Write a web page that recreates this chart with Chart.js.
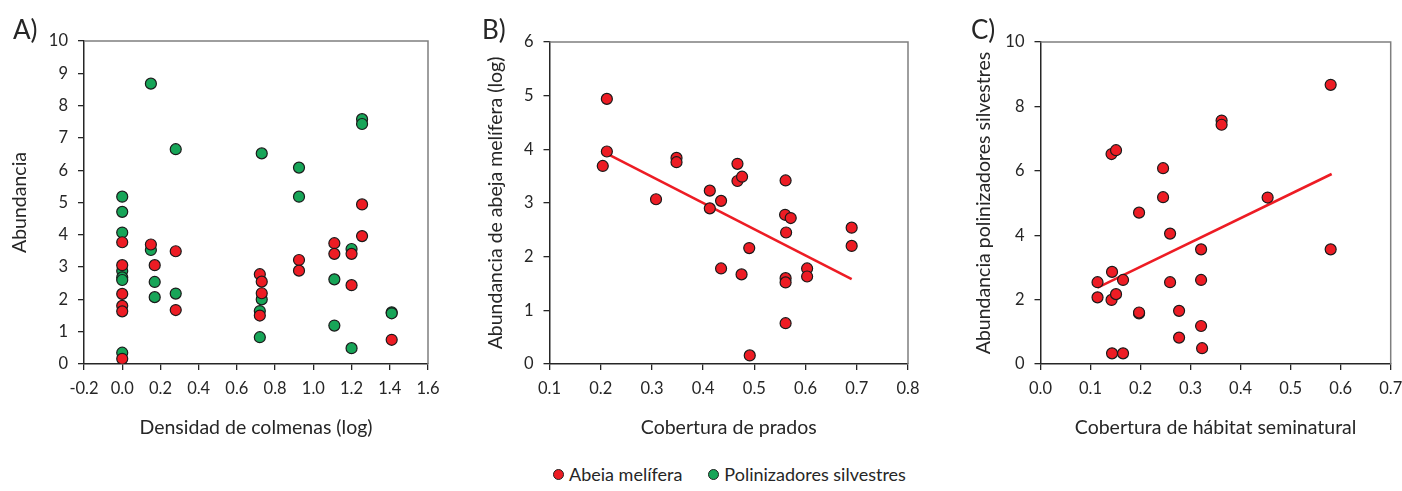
<!DOCTYPE html>
<html>
<head>
<meta charset="utf-8">
<script src="https://cdn.jsdelivr.net/npm/chart.js@4"></script>
<style>
  body { margin: 0; background: #fff; }
  #wrap { position: relative; width: 1402px; height: 491px; background: #fff; font-family: Lato, 'Open Sans', sans-serif; color: #262626; }
  canvas { position: absolute; top: 0; }
  .tag { position: absolute; font-size: 26px; top: 13px; }
  #legend { position: absolute; top: 463px; left: 553px; font-size: 18px; white-space: nowrap; }
  #legend span.dot { display: inline-block; width: 9px; height: 9px; border-radius: 50%; border: 1px solid #222; margin-right: 5px; vertical-align: 1px; }
  #legend span.item { margin-right: 26px; }
</style>
</head>
<body>
<div id="wrap">
  <canvas id="chA" width="450" height="450" style="left:0px"></canvas>
  <canvas id="chB" width="480" height="450" style="left:450px"></canvas>
  <canvas id="chC" width="462" height="450" style="left:940px"></canvas>
  <div class="tag" style="left:13px">A)</div>
  <div class="tag" style="left:482px">B)</div>
  <div class="tag" style="left:971px">C)</div>
  <div id="legend">
    <span class="item"><span class="dot" style="background:#ED1C24"></span>Abeia melífera</span><span class="item"><span class="dot" style="background:#17A558"></span>Polinizadores silvestres</span>
  </div>
</div>
<script>
// Panel A - hive density vs abundance
const honeyDensity = [0, 0, 0, 0, 0, 0, 0.15, 0.17, 0.28, 0.28, 0.72, 0.73, 0.73, 0.72, 0.925, 0.925, 1.11, 1.11, 1.20, 1.20, 1.255, 1.255, 1.41];
const honeyAbund = [3.77, 3.06, 2.17, 1.80, 1.63, 0.16, 3.70, 3.06, 3.49, 1.67, 2.78, 2.55, 2.19, 1.50, 3.22, 2.89, 3.74, 3.41, 3.41, 2.44, 4.94, 3.96, 0.75];
const wildDensity = [0, 0, 0, 0, 0, 0, 0, 0.15, 0.15, 0.17, 0.17, 0.28, 0.28, 0.73, 0.73, 0.72, 0.72, 0.925, 0.925, 1.11, 1.11, 1.20, 1.20, 1.255, 1.255, 1.41, 1.41];
const wildAbund = [5.18, 4.71, 4.07, 2.88, 2.68, 2.60, 0.35, 8.68, 3.53, 2.54, 2.07, 6.65, 2.18, 6.52, 2.00, 1.64, 0.83, 6.08, 5.18, 2.62, 1.19, 3.56, 0.49, 7.58, 7.43, 1.60, 1.57];

// Panel B - meadow cover vs honey bee abundance (log)
const meadowCover = [0.212, 0.212, 0.204, 0.308, 0.348, 0.348, 0.467, 0.467, 0.476, 0.413, 0.413, 0.435, 0.561, 0.560, 0.571, 0.562, 0.690, 0.690, 0.490, 0.435, 0.475, 0.561, 0.561, 0.603, 0.603, 0.561, 0.491];
const honeyLog = [4.94, 3.96, 3.69, 3.07, 3.84, 3.76, 3.73, 3.41, 3.49, 3.23, 2.90, 3.04, 3.42, 2.78, 2.72, 2.45, 2.54, 2.20, 2.16, 1.78, 1.67, 1.60, 1.52, 1.78, 1.63, 0.76, 0.16];
const fitBx = [0.21, 0.69];
const fitBy = [3.93, 1.58];

// Panel C - seminatural habitat vs wild pollinators
const seminatCover = [0.114, 0.114, 0.143, 0.142, 0.151, 0.165, 0.143, 0.165, 0.142, 0.151, 0.197, 0.197, 0.197, 0.245, 0.245, 0.259, 0.259, 0.277, 0.277, 0.321, 0.321, 0.321, 0.323, 0.362, 0.362, 0.454, 0.58, 0.58];
const wildAbundC = [2.54, 2.07, 2.86, 1.99, 2.17, 2.61, 0.33, 0.33, 6.52, 6.64, 4.70, 1.57, 1.60, 6.08, 5.18, 4.05, 2.54, 1.65, 0.82, 3.56, 2.61, 1.18, 0.49, 7.56, 7.43, 5.17, 8.67, 3.56];
const fitCx = [0.114, 0.582];
const fitCy = [2.37, 5.90];

// tick labels
const ticksAx = [-0.2, 0, 0.2, 0.4, 0.6, 0.8, 1.0, 1.2, 1.4, 1.6];
const ticksAy = [0, 1, 2, 3, 4, 5, 6, 7, 8, 9, 10];
const ticksBx = [0.1, 0.2, 0.3, 0.4, 0.5, 0.6, 0.7, 0.8];
const ticksBy = [0, 1, 2, 3, 4, 5, 6];
const ticksCx = [0, 0.1, 0.2, 0.3, 0.4, 0.5, 0.6, 0.7];
const ticksCy = [0, 2, 4, 6, 8, 10];

const RED = '#ED1C24', GREEN = '#17A558', INK = '#262626';
const FONT = 'Lato, "Open Sans", sans-serif';

const pts = (xs, ys) => xs.map((x, i) => ({ x: x, y: ys[i] }));

const frame = {
  id: 'frame',
  beforeDatasetsDraw(chart) {
    const { ctx, chartArea: a } = chart;
    ctx.save();
    ctx.strokeStyle = '#7f7f7f';
    ctx.lineWidth = 1.5;
    ctx.beginPath();
    ctx.moveTo(a.left, a.top);
    ctx.lineTo(a.right, a.top);
    ctx.lineTo(a.right, a.bottom);
    ctx.stroke();
    ctx.restore();
  }
};

function scatterSet(data, color) {
  return {
    type: 'scatter', data: data, order: 1,
    backgroundColor: color, borderColor: '#1a1a1a', borderWidth: 1.2,
    pointRadius: 5.5, pointHoverRadius: 5.5
  };
}

function fitSet(data) {
  return {
    type: 'scatter', data: data, order: 2, showLine: true,
    borderColor: RED, borderWidth: 2.6, pointRadius: 0, fill: false
  };
}

function makePanel(id, cfg) {
  const ctx = document.getElementById(id).getContext('2d');
  const fmt = cfg.xDec ? (v => Number(v).toFixed(1)) : (v => v);
  return new Chart(ctx, {
    type: 'scatter',
    data: { datasets: cfg.datasets },
    options: {
      responsive: false,
      animation: false,
      layout: { padding: { left: 0, top: cfg.top, right: cfg.right, bottom: 0 } },
      plugins: { legend: { display: false }, tooltip: { enabled: false } },
      scales: {
        x: {
          type: 'linear', min: cfg.xTicks[0], max: cfg.xTicks[cfg.xTicks.length - 1],
          afterBuildTicks: s => { s.ticks = cfg.xTicks.map(v => ({ value: v })); },
          afterFit: s => { s.height = 86; s.paddingLeft = 0; s.paddingRight = 0; },
          border: { color: INK, width: 1.5 },
          grid: { drawOnChartArea: false, tickLength: 6, color: INK, lineWidth: 1.3 },
          ticks: { color: INK, font: { family: FONT, size: 16.5 }, padding: 9, maxRotation: 0, autoSkip: false, callback: fmt },
          title: { display: true, text: cfg.xTitle, color: INK, font: { family: FONT, size: 19.5 }, padding: { top: 0, bottom: 11 } }
        },
        y: {
          type: 'linear', min: cfg.yTicks[0], max: cfg.yTicks[cfg.yTicks.length - 1],
          afterBuildTicks: s => { s.ticks = cfg.yTicks.map(v => ({ value: v })); },
          afterFit: s => { s.width = cfg.yWidth; s.paddingTop = 0; s.paddingBottom = 0; },
          border: { color: INK, width: 1.5 },
          grid: { drawOnChartArea: false, tickLength: 6, color: INK, lineWidth: 1.3 },
          ticks: { color: INK, font: { family: FONT, size: 16.5 }, padding: 10, autoSkip: false },
          title: { display: true, text: cfg.yTitle, color: INK, font: { family: FONT, size: 19.5 }, padding: { top: cfg.yTitlePad, bottom: 0 } }
        }
      }
    },
    plugins: [frame]
  });
}

makePanel('chA', {
  top: 41, right: 22, yWidth: 84, yTitlePad: 8, xDec: true,
  xTicks: ticksAx, yTicks: ticksAy,
  xTitle: 'Densidad de colmenas (log)', yTitle: 'Abundancia',
  datasets: [scatterSet(pts(honeyDensity, honeyAbund), RED), scatterSet(pts(wildDensity, wildAbund), GREEN)]
});

makePanel('chB', {
  top: 42, right: 22, yWidth: 99.5, yTitlePad: 34, xDec: true,
  xTicks: ticksBx, yTicks: ticksBy,
  xTitle: 'Cobertura de prados', yTitle: 'Abundancia de abeja melífera (log)',
  datasets: [scatterSet(pts(meadowCover, honeyLog), RED), fitSet(pts(fitBx, fitBy))]
});

makePanel('chC', {
  top: 42, right: 11.3, yWidth: 100.5, yTitlePad: 32, xDec: true,
  xTicks: ticksCx, yTicks: ticksCy,
  xTitle: 'Cobertura de hábitat seminatural', yTitle: 'Abundancia polinizadores silvestres',
  datasets: [scatterSet(pts(seminatCover, wildAbundC), RED), fitSet(pts(fitCx, fitCy))]
});
</script>
</body>
</html>
